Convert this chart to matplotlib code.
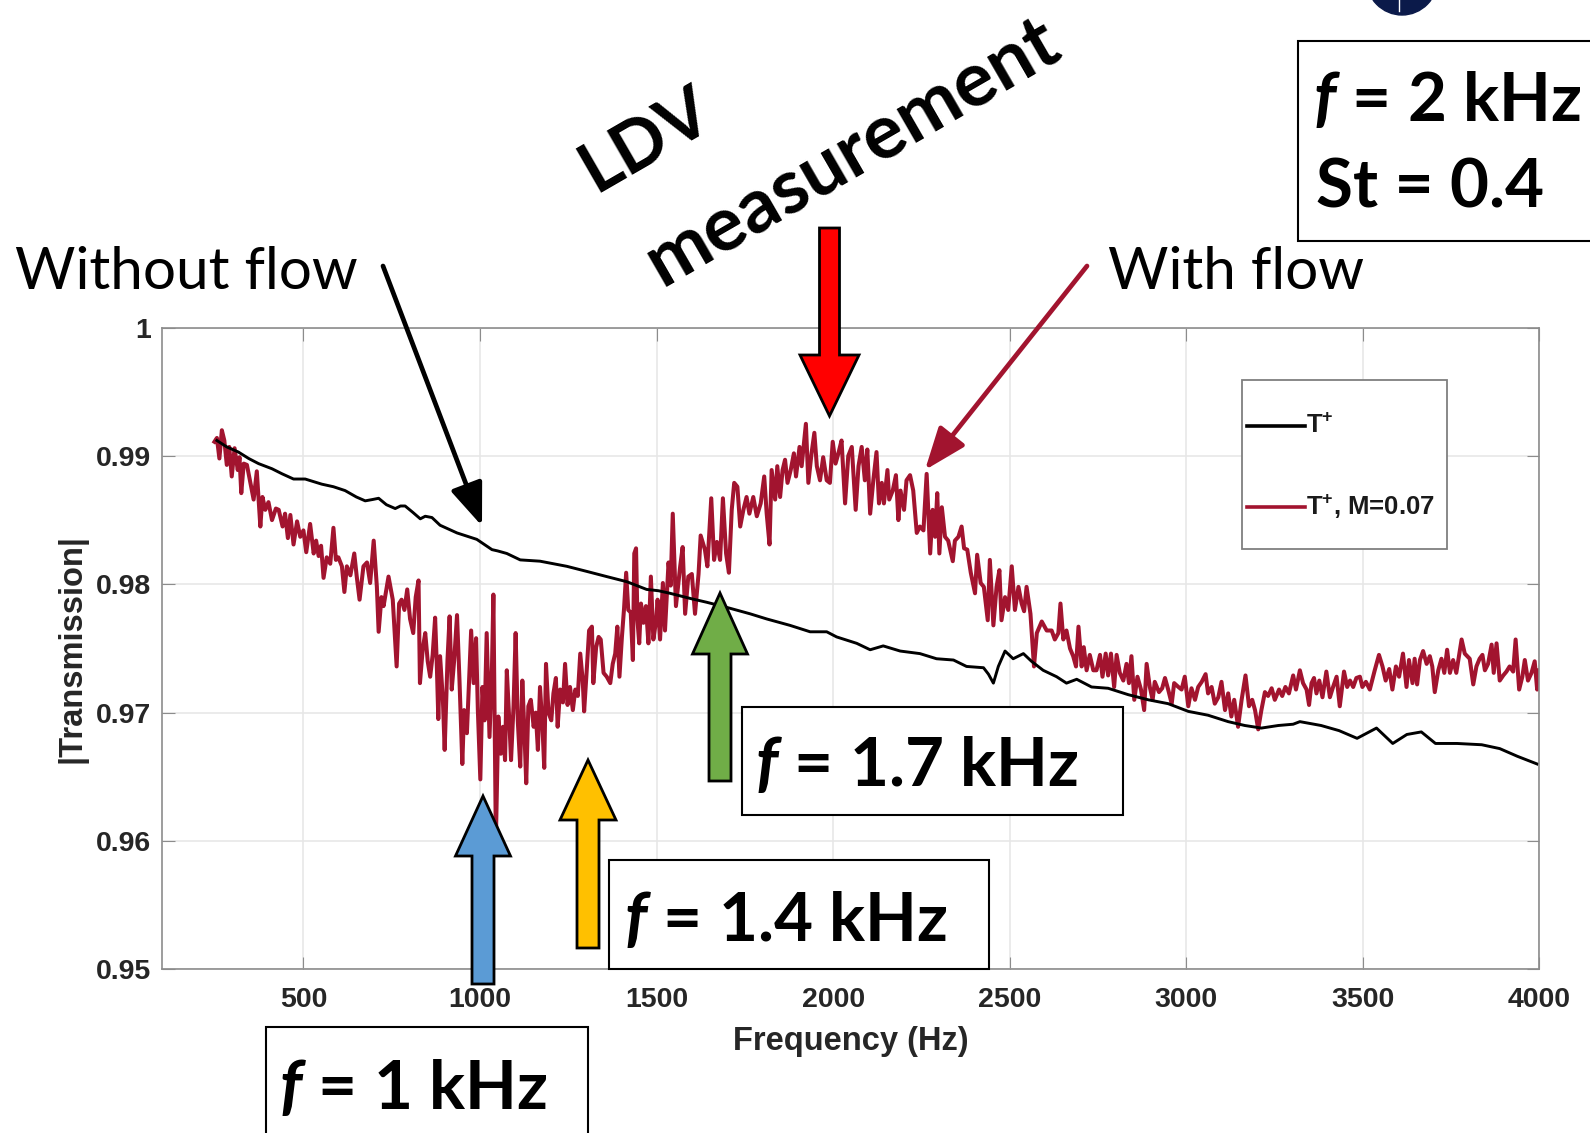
# Transmission vs frequency, with and without flow (LDV measurement points marked)

import matplotlib.pyplot as plt
from matplotlib.patches import Rectangle, Ellipse, FancyArrow

plt.rcParams['mathtext.fontset'] = 'custom'
plt.rcParams['mathtext.it'] = 'Lato:italic:bold'
plt.rcParams['mathtext.bf'] = 'Liberation Sans:bold'
plt.rcParams['mathtext.rm'] = 'Liberation Sans:bold'

# without flow (T+)
black_f = [255, 283, 316, 345, 373, 411, 440, 472, 505, 552, 585, 618, 650, 675, 695, 713,
           735, 760, 775, 788, 810, 831, 845, 864, 887, 935, 991, 1034, 1050, 1076, 1114,
           1170, 1246, 1303, 1359, 1416, 1472, 1505, 1538, 1595, 1642, 1699, 1765, 1812,
           1878, 1935, 1982, 2010, 2067, 2105, 2142, 2190, 2246, 2293, 2341, 2378, 2426,
           2440, 2454, 2468, 2487, 2510, 2539, 2562, 2595, 2633, 2661, 2690, 2732, 2779,
           2836, 2893, 2949, 3006, 3062, 3119, 3166, 3213, 3261, 3303, 3322, 3382, 3433,
           3484, 3539, 3585, 3625, 3666, 3706, 3767, 3837, 3888, 3938, 3994]
black_t = [.9912, .9907, .9903, .9898, .9894, .9890, .9886, .9882, .9882, .9878, .9876, .9873,
           .9868, .9865, .9866, .9867, .9862, .9859, .9861, .9861, .9856, .9851, .9853, .9852,
           .9846, .9840, .9835, .9827, .9826, .9824, .9819, .9818, .9814, .9810, .9806, .9802,
           .9796, .9795, .9793, .9789, .9786, .9782, .9777, .9773, .9768, .9763, .9763, .9759,
           .9754, .9749, .9752, .9748, .9746, .9742, .9741, .9736, .9735, .9730, .9723, .9736,
           .9748, .9742, .9746, .9740, .9733, .9728, .9723, .9726, .9720, .9719, .9714, .9710,
           .9707, .9701, .9698, .9693, .9690, .9688, .9690, .9691, .9693, .9690, .9686, .9680,
           .9688, .9676, .9683, .9685, .9676, .9676, .9675, .9672, .9666, .9660]

# with flow (T+, M=0.07)
red_f = [248, 255, 262, 269, 276, 283, 290, 297, 305, 314, 319, 324, 331, 340, 349, 359, 368,
         378, 384, 392, 401, 411, 422, 430, 441, 448, 456, 463, 472, 482, 491, 500, 508, 519,
         529, 536, 543, 550, 557, 566, 576, 585, 592, 599, 609, 616, 623, 633, 644, 651, 659,
         670, 680, 689, 699, 708, 713, 721, 727, 741, 753, 764, 771, 778, 786, 794, 802, 811,
         818, 826, 830, 838, 845, 852, 859, 866, 873, 878, 882,
         887, 895, 900, 908, 914, 920, 927, 935, 942, 950, 955, 963, 975, 982, 989, 994, 1001,
         1007, 1013, 1019, 1027, 1034, 1038, 1045, 1052, 1059, 1065, 1071, 1076, 1083, 1088,
         1095, 1101, 1107, 1114, 1120, 1126, 1131, 1137, 1144, 1152, 1158, 1164, 1170, 1177,
         1182, 1187, 1194, 1202, 1208, 1215, 1220, 1227, 1235, 1241, 1248, 1255, 1263, 1270,
         1277, 1284, 1291, 1295, 1303, 1309, 1317, 1321, 1329, 1336, 1342, 1350, 1359, 1369,
         1376, 1383, 1389, 1395, 1402, 1408, 1414, 1420, 1427, 1433, 1437, 1442, 1446, 1451,
         1456, 1463, 1470, 1477, 1484, 1491, 1499,
         1503, 1510, 1518, 1524, 1534, 1540, 1546, 1555, 1567, 1574, 1581, 1590, 1600, 1609,
         1619, 1625, 1637, 1644, 1655, 1663, 1671, 1680, 1688, 1697, 1705, 1713, 1720, 1729,
         1737, 1746, 1755, 1763, 1774, 1784, 1795, 1805, 1812, 1820, 1826, 1836, 1842, 1850,
         1857, 1864, 1871, 1880, 1889, 1895, 1905, 1911, 1923, 1930, 1939, 1947, 1954, 1963,
         1972, 1982, 1991, 1999, 2007, 2015, 2024, 2034, 2043, 2053, 2064, 2072, 2081, 2090,
         2097, 2105, 2114, 2123, 2130, 2138, 2144, 2154, 2159, 2169, 2178, 2185, 2191, 2201,
         2208, 2218, 2227, 2237, 2246, 2256, 2265, 2275, 2282, 2289, 2295, 2301, 2308, 2317,
         2326, 2339, 2345, 2355, 2364, 2371, 2380, 2390, 2402, 2408, 2418, 2427, 2438, 2444,
         2454, 2463, 2471, 2477, 2487, 2496, 2506, 2515, 2525, 2534, 2541, 2548, 2559, 2569,
         2577, 2591, 2605, 2619, 2628, 2638, 2644, 2652, 2661, 2671, 2680, 2688, 2695, 2704,
         2710,
         2718, 2727, 2737, 2746, 2756, 2763, 2772, 2779, 2787, 2796, 2803, 2812, 2822, 2831,
         2838, 2845, 2853, 2862, 2872, 2881, 2888, 2897, 2905, 2911, 2923, 2932, 2940, 2949,
         2959, 2966, 2978, 2987, 2996, 3006, 3015, 3025, 3034, 3044, 3055, 3062, 3072, 3081,
         3091, 3100, 3110, 3119, 3128, 3136, 3147, 3157, 3168, 3178, 3187, 3195, 3204, 3213,
         3223, 3232, 3242, 3251, 3263, 3272, 3281, 3291,
         3303, 3311, 3322, 3331, 3341, 3348, 3355, 3362, 3369, 3377, 3386, 3397, 3407, 3416,
         3426, 3435, 3447, 3456, 3464, 3473, 3482, 3492, 3499, 3509, 3520, 3534, 3546, 3556,
         3565, 3575, 3584, 3594, 3603, 3614, 3624, 3631, 3641, 3647, 3654, 3662, 3671, 3681,
         3690, 3697, 3704, 3714, 3723, 3731, 3739, 3747, 3756, 3765, 3780, 3789, 3803, 3813,
         3822, 3831, 3839, 3846, 3855, 3865, 3871, 3879, 3888, 3898, 3907, 3916, 3926, 3933,
         3943, 3952, 3959, 3968, 3978, 3987, 3994, 4000]
red_t = [.9911, .9914, .9898, .9920, .9912, .9893, .9907, .9884, .9906, .9889, .9899, .9871,
         .9894, .9893, .9880, .9866, .9888, .9845, .9868, .9858, .9864, .9850, .9859, .9858,
         .9845, .9855, .9836, .9854, .9831, .9849, .9837, .9842, .9825, .9847, .9824, .9834,
         .9822, .9830, .9805, .9821, .9816, .9844, .9819, .9821, .9814, .9794, .9814, .9807,
         .9824, .9806, .9788, .9814, .9817, .9801, .9834, .9798, .9763, .9790, .9783, .9806,
         .9788, .9736, .9785, .9788, .9780, .9796, .9773, .9762, .9790, .9803, .9723, .9750,
         .9762, .9740, .9728, .9745, .9774, .9735, .9695,
         .9744, .9710, .9671, .9741, .9775, .9718, .9741, .9776, .9725, .9660, .9702, .9684,
         .9764, .9723, .9758, .9702, .9648, .9720, .9694, .9762, .9681, .9736, .9792, .9600,
         .9697, .9668, .9689, .9663, .9733, .9694, .9663, .9705, .9762, .9694, .9658, .9725,
         .9684, .9645, .9705, .9710, .9689, .9700, .9671, .9720, .9689, .9657, .9738, .9700,
         .9694, .9715, .9727, .9689, .9718, .9708, .9738, .9706, .9720, .9702, .9718, .9713,
         .9746, .9725, .9701, .9736, .9764, .9767, .9723, .9751, .9759, .9757, .9731, .9728,
         .9723, .9738, .9746, .9767, .9728, .9759, .9781, .9809, .9780, .9778, .9741, .9824,
         .9828, .9772, .9754, .9785, .9770, .9783, .9754, .9806, .9757, .9772,
         .9788, .9757, .9801, .9764, .9817, .9799, .9855, .9783, .9814, .9829, .9777, .9806,
         .9808, .9777, .9808, .9838, .9827, .9814, .9867, .9819, .9833, .9819, .9867, .9824,
         .9809, .9858, .9879, .9876, .9845, .9858, .9868, .9855, .9868, .9853, .9863, .9884,
         .9855, .9831, .9889, .9866, .9892, .9868, .9889, .9897, .9879, .9889, .9902, .9884,
         .9907, .9892, .9925, .9879, .9902, .9918, .9892, .9881, .9899, .9881, .9879, .9911,
         .9894, .9902, .9912, .9863, .9900, .9907, .9858, .9892, .9907, .9881,
         .9905, .9855, .9881, .9903, .9863, .9879, .9863, .9889, .9866, .9873, .9885, .9850,
         .9873, .9858, .9881, .9885, .9873, .9840, .9845, .9842, .9886, .9824, .9858, .9837,
         .9871, .9824, .9860, .9837, .9834, .9818, .9834, .9837, .9845, .9828, .9827, .9809,
         .9793, .9823, .9801, .9798, .9772, .9819, .9768, .9798, .9811, .9772, .9790, .9780,
         .9814, .9780, .9798, .9785, .9779, .9798, .9777, .9736, .9762, .9771, .9764, .9764,
         .9757, .9762, .9785, .9757, .9764, .9750, .9744, .9736, .9767, .9736, .9751,
         .9733, .9745, .9733, .9733, .9745, .9728, .9746, .9729, .9746, .9720, .9745, .9731,
         .9725, .9738, .9723, .9744, .9710, .9728, .9718, .9702, .9738, .9720, .9710, .9724,
         .9716, .9719, .9727, .9718, .9707, .9723, .9720, .9718, .9728, .9705, .9719, .9710,
         .9720, .9724, .9730, .9715, .9720, .9707, .9712, .9724, .9702, .9715, .9697, .9710,
         .9689, .9710, .9729, .9705, .9710, .9702, .9687, .9702, .9716, .9713, .9719, .9710,
         .9718, .9713, .9720, .9715,
         .9729, .9718, .9733, .9723, .9718, .9706, .9723, .9727, .9715, .9725, .9712, .9732,
         .9712, .9720, .9728, .9705, .9732, .9720, .9725, .9720, .9727, .9728, .9720, .9724,
         .9718, .9733, .9745, .9736, .9725, .9734, .9718, .9736, .9728, .9746, .9720, .9741,
         .9723, .9742, .9722, .9741, .9748, .9738, .9744, .9736, .9716, .9733, .9742, .9731,
         .9749, .9731, .9741, .9731, .9757, .9746, .9742, .9722, .9736, .9742, .9745, .9733,
         .9738, .9753, .9731, .9754, .9725, .9729, .9732, .9736, .9732, .9757, .9718, .9728,
         .9741, .9725, .9731, .9740, .9718, .9733]

x_ticks = [500, 1000, 1500, 2000, 2500, 3000, 3500, 4000]
y_ticks = [0.95, 0.96, 0.97, 0.98, 0.99, 1.0]
y_ticklabels = ['0.95', '0.96', '0.97', '0.98', '0.99', '1']
legend_labels = [r'T$^{\mathbf{+}}$', r'T$^{\mathbf{+}}$, M=0.07']

RED = '#A2142F'

fig = plt.figure(figsize=(15.9, 11.33), dpi=100)
ax = fig.add_axes([0.1020, 0.1444, 0.8661, 0.5665])

ax.plot(red_f, red_t, color=RED, lw=2.9)
ax.plot(black_f, black_t, color='black', lw=2.1)

ax.set_xlim(100, 4000)
ax.set_ylim(0.95, 1)
ax.set_xticks(x_ticks)
ax.set_yticks(y_ticks)
ax.set_yticklabels(y_ticklabels)
ax.grid(True, color='#e6e6e6', lw=1.1)
ax.set_axisbelow(True)
for s in ax.spines.values():
    s.set_color('#8c8c8c')
    s.set_linewidth(1.2)
ax.tick_params(direction='in', length=9, color='#8c8c8c', top=True, right=True,
               labelsize=20.5, labelcolor='#262626')
ax.tick_params(axis='x', pad=13)
ax.tick_params(axis='y', pad=8)
for lab in ax.get_xticklabels() + ax.get_yticklabels():
    lab.set_fontweight('bold')
    lab.set_family('Liberation Sans')
ax.set_xlabel('Frequency (Hz)', fontsize=23.5, fontweight='bold', color='#262626',
              family='Liberation Sans', labelpad=9)
ax.set_ylabel('|Transmission|', fontsize=23.5, fontweight='bold', color='#262626',
              family='Liberation Sans', labelpad=6)

# overlay in pixel coordinates for legend and slide annotations
ov = fig.add_axes([0, 0, 1, 1], zorder=5)
ov.set_xlim(0, 1590)
ov.set_ylim(1133, 0)
ov.axis('off')
ov.patch.set_alpha(0)

# legend
ov.add_patch(Rectangle((1242, 380), 205, 169, fc='white', ec='#7f7f7f', lw=1.3))
for yy, col, lab in zip([426, 507], ['black', RED], legend_labels):
    ov.plot([1247, 1305], [yy, yy], color=col, lw=2.6)
    ov.text(1306, yy, lab, va='center', ha='left', family='Liberation Sans',
            fontweight='bold', fontsize=18.5, color='#1a1a1a')

# logo piece at the top
ov.add_patch(Ellipse((1402, -22), 72, 74, color='#0b1a4a', clip_on=False))
ov.plot([1399, 1399], [0, 11], color='white', lw=1)

# boxes
ov.add_patch(Rectangle((1298, 41), 320, 200, fc='white', ec='black', lw=1.5))
ov.add_patch(Rectangle((742, 707), 381, 108, fc='white', ec='black', lw=1.5))
ov.add_patch(Rectangle((609, 860), 380, 109, fc='white', ec='black', lw=1.5))
ov.add_patch(Rectangle((266, 1027), 322, 130, fc='white', ec='black', lw=1.5))

big = dict(family='Lato', fontweight='bold', fontsize=48.5, color='black')
ov.text(1313, 121, '$f$ = 2 kHz', va='baseline', **big)
ov.text(1316, 208, 'St = 0.4', va='baseline', **big)
ov.text(755, 786, '$f$ = 1.7 kHz', va='baseline', **big)
ov.text(624, 941, '$f$ = 1.4 kHz', va='baseline', **big)
ov.text(279, 1109, '$f$ = 1 kHz', va='baseline', **big)

big['fontsize'] = 51
ov.text(646, 140, 'LDV', rotation=30, ha='center', va='center', rotation_mode='anchor', **big)
big['fontsize'] = 55
ov.text(852, 152, 'measurement', rotation=30, ha='center', va='center',
        rotation_mode='anchor', **big)

ov.text(15, 289, 'Without flow', family='Lato', fontsize=42, va='baseline')
ov.text(1108, 289, 'With flow', family='Lato', fontsize=42, va='baseline')

# thin pointer arrows
ov.annotate('', xy=(482, 526), xytext=(383, 266),
            arrowprops=dict(arrowstyle='-|>,head_length=1.3,head_width=0.5', lw=3.4,
                            color='black', shrinkA=0, shrinkB=0, mutation_scale=20))
ov.annotate('', xy=(925, 470), xytext=(1087, 266),
            arrowprops=dict(arrowstyle='-|>,head_length=1.3,head_width=0.5', lw=3.4,
                            color=RED, shrinkA=0, shrinkB=0, mutation_scale=20))

# block arrows
ov.add_patch(FancyArrow(829.5, 228, 0, 188, width=20, head_width=59, head_length=61,
                        length_includes_head=True, fc='#ff0000', ec='black', lw=2))
ov.add_patch(FancyArrow(720, 781, 0, -188, width=22, head_width=55, head_length=61,
                        length_includes_head=True, fc='#70ad47', ec='black', lw=2))
ov.add_patch(FancyArrow(588, 948, 0, -188, width=22, head_width=56, head_length=60,
                        length_includes_head=True, fc='#ffc000', ec='black', lw=2))
ov.add_patch(FancyArrow(483, 984, 0, -188, width=22, head_width=55, head_length=60,
                        length_includes_head=True, fc='#5b9bd5', ec='black', lw=2))

plt.savefig('out.png', dpi=100)
